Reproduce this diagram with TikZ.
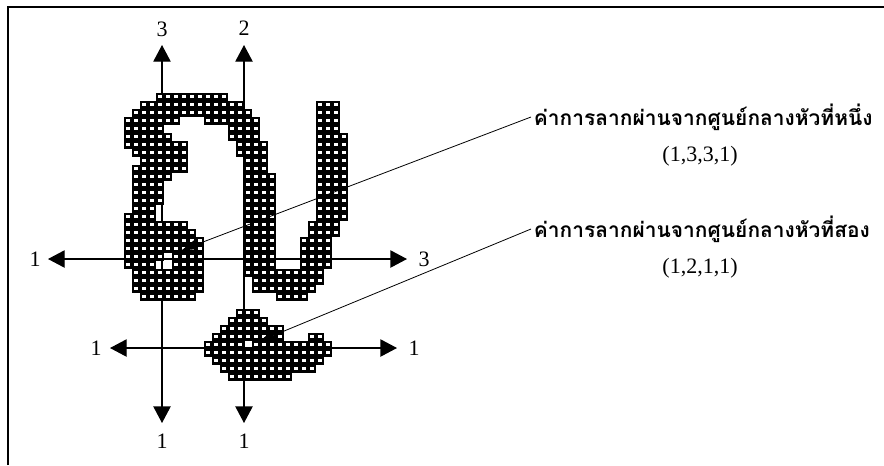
\documentclass[tikz,border=0pt]{standalone}
\usepackage{fontspec}
\setmainfont{Liberation Serif}
\newfontfamily\thaifont[Script=Thai]{Loma}
\usetikzlibrary{arrows.meta}

\tikzset{
  cell/.style={rectangle, draw=black, fill=white, line width=1.7pt,
    minimum size=4.3pt, inner sep=0pt},
  axis/.style={line width=1pt,
    {Triangle[length=12.5pt,width=13pt]}-{Triangle[length=12.5pt,width=13pt]}},
  num/.style={font=\fontsize{16.5}{19}\selectfont, inner sep=0pt},
  thai/.style={font=\thaifont\bfseries\fontsize{15.7}{18}\selectfont, anchor=west, inner sep=2pt},
  leader/.style={line width=0.6pt, -{Triangle[length=11pt,width=7pt]}}
}

\begin{document}
\begin{tikzpicture}[x=0.75pt,y=-0.75pt]
  \useasboundingbox (0,0) rectangle (884,465);
  % frame
  \draw[line width=1.5pt] (8,465) -- (8,7) -- (884,7);

  % ends of the four drag directions
  \coordinate (up3) at (162,45);
  \coordinate (dn3) at (162,423);
  \coordinate (up2) at (244,45);
  \coordinate (dn2) at (244,423);
  \coordinate (lf1) at (48,259);
  \coordinate (rt1) at (407,259);
  \coordinate (lf2) at (110,348);
  \coordinate (rt2) at (397,348);
  \draw[axis] (up3) -- (dn3);
  \draw[axis] (up2) -- (dn2);
  \draw[axis] (lf1) -- (rt1);
  \draw[axis] (lf2) -- (rt2);

  \node[num] (nup3) at (162,29) {3};
  \node[num] (nup2) at (244,28) {2};
  \node[num] (ndn3) at (162,441) {1};
  \node[num] (ndn2) at (244,441) {1};
  \node[num] (nlf1) at (35,259) {1};
  \node[num] (nrt1) at (424,259) {3};
  \node[num] (nlf2) at (96,348) {1};
  \node[num] (nrt2) at (414,348) {1};

  % pixel cells, row/first/last
  \foreach \r/\a/\b in {0/4/12,
      1/2/14, 1/24/26,
      2/1/15, 2/24/26,
      3/0/6, 3/10/16, 3/24/26,
      4/0/4, 4/13/16, 4/24/26,
      5/0/5, 5/13/16, 5/24/27,
      6/0/7, 6/14/17, 6/24/27,
      7/1/7, 7/14/17, 7/24/27,
      8/2/7, 8/15/17, 8/24/27,
      9/1/7, 9/15/17, 9/24/27,
      10/1/5, 10/15/18, 10/24/27,
      11/1/4, 11/15/18, 11/24/27,
      12/1/4, 12/15/18, 12/24/27,
      13/1/4, 13/15/18, 13/24/27,
      14/1/3, 14/15/18, 14/24/27,
      15/0/3, 15/15/18, 15/24/27,
      16/0/7, 16/15/18, 16/23/26,
      17/0/8, 17/15/18, 17/23/26,
      18/0/9, 18/15/18, 18/22/25,
      19/0/9, 19/15/18, 19/22/25,
      20/0/4, 20/6/9, 20/15/18, 20/22/25,
      21/0/3, 21/6/9, 21/15/18, 21/22/25,
      22/1/9, 22/15/24,
      23/1/9, 23/16/24,
      24/1/9, 24/16/23,
      25/2/8, 25/19/22,
      27/14/16, 28/13/17, 29/12/19,
      30/11/19, 30/23/24,
      31/10/14, 31/16/25,
      32/10/25, 33/11/24, 34/12/23, 35/13/20}
    \foreach \c in {\a,...,\b}
      \node[cell] (c-\c-\r) at ({128+8*\c},{96.5+8*\r}) {};

  % captions
  \node[thai] (head1) at (531,117) {ค่าการลากผ่านจากศูนย์กลางหัวที่หนึ่ง};
  \node[num] (val1) at (700,156) {(1,3,3,1)};
  \node[thai] (head2) at (531,229) {ค่าการลากผ่านจากศูนย์กลางหัวที่สอง};
  \node[num] (val2) at (700,268) {(1,2,1,1)};

  \coordinate (tip1) at (182,250);
  \coordinate (tip2) at (260,341);
  \draw[leader] (head1.west) -- (tip1);
  \draw[leader] (head2.west) -- (tip2);
\end{tikzpicture}
\end{document}
